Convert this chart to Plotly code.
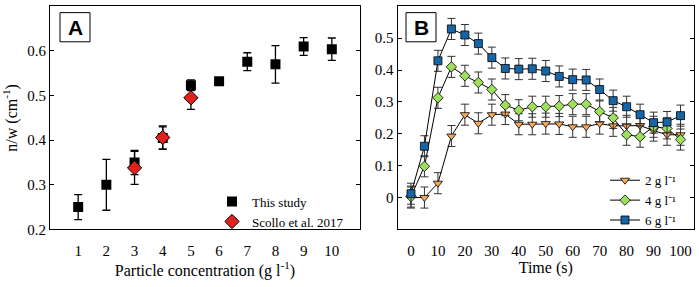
import plotly.graph_objects as go

# ---------- Panel A data ----------
conc = [1, 2, 3, 4, 5, 6, 7, 8, 9, 10]
this_study = [0.250, 0.300, 0.350, 0.405, 0.523, 0.532, 0.576, 0.570, 0.610, 0.604]
this_err = [0.028, 0.057, 0.027, 0.025, 0.012, 0.0, 0.020, 0.042, 0.020, 0.025]
scollo_conc = [3, 4, 5]
scollo = [0.338, 0.406, 0.495]
scollo_err = [0.037, 0.026, 0.026]

# ---------- Panel B data ----------
time_s = [0, 5, 10, 15, 20, 25, 30, 35, 40, 45, 50, 55, 60, 65, 70, 75, 80, 85, 90, 95, 100]
c2 = [0.0, 0.0, 0.045, 0.193, 0.260, 0.233, 0.260, 0.262, 0.230, 0.230, 0.232, 0.231,
      0.222, 0.222, 0.232, 0.225, 0.225, 0.226, 0.210, 0.197, 0.197]
c4 = [0.003, 0.098, 0.313, 0.410, 0.382, 0.361, 0.339, 0.290, 0.274, 0.285, 0.285, 0.287,
      0.293, 0.293, 0.270, 0.250, 0.197, 0.191, 0.222, 0.217, 0.182]
c6 = [0.012, 0.161, 0.429, 0.529, 0.510, 0.483, 0.439, 0.405, 0.403, 0.404, 0.397, 0.380,
      0.370, 0.369, 0.339, 0.304, 0.285, 0.260, 0.235, 0.237, 0.257]
err_b = 0.033
time_ticks = [0, 10, 20, 30, 40, 50, 60, 70, 80, 90, 100]

serif = "Liberation Serif"

fig = go.Figure()

# Panel A
fig.add_trace(go.Scatter(
    x=conc, y=this_study, mode="markers", name="This study",
    marker=dict(symbol="square", size=10, color="black"),
    error_y=dict(type="data", array=this_err, color="black", thickness=1.3, width=4),
    xaxis="x", yaxis="y", legend="legend"))
fig.add_trace(go.Scatter(
    x=scollo_conc, y=scollo, mode="markers", name="Scollo et al. 2017",
    marker=dict(symbol="diamond", size=11, color="#e3211c", line=dict(color="black", width=1)),
    error_y=dict(type="data", array=scollo_err, color="black", thickness=1.3, width=4),
    xaxis="x", yaxis="y", legend="legend"))

# Panel B
series = [
    ("2 g l\u207b\u00b9", c2, "triangle-down", "#f8a857"),
    ("4 g l\u207b\u00b9", c4, "diamond", "#9ee05e"),
    ("6 g l\u207b\u00b9", c6, "square", "#1565a7"),
]
for name, vals, sym, col in series:
    fig.add_trace(go.Scatter(
        x=time_s, y=vals, mode="lines+markers", name=name,
        line=dict(color="black", width=1),
        marker=dict(symbol=sym, size=8, color=col, line=dict(color="black", width=0.8)),
        error_y=dict(type="data", array=[err_b] * len(vals), color="#333333", thickness=1, width=4),
        xaxis="x2", yaxis="y2", legend="legend2"))

tickfont = dict(family=serif, size=15, color="black")
title_font = dict(family=serif, size=16, color="black")

yaxis_common = dict(
    showline=True, linecolor="black", linewidth=1, mirror="ticks",
    ticks="inside", ticklen=4, tickcolor="black", showgrid=False, zeroline=False,
    tickfont=tickfont,
)
# x axes carrying labels: transparent outside ticks push labels away from the axis
xlabel_common = dict(
    showline=True, linecolor="black", linewidth=1, mirror=True,
    ticks="outside", ticklen=8, tickcolor="rgba(0,0,0,0)", showgrid=False, zeroline=False,
    tickfont=tickfont,
)
# overlay x axes drawing the visible inside ticks (bottom and top)
xtick_common = dict(
    showline=False, mirror="ticks", ticks="inside", ticklen=4, tickcolor="black",
    showgrid=False, zeroline=False, showticklabels=False,
)

dom_y = [1 - 236 / 287, 1 - 6.5 / 287]
dom_a = [50 / 699, 360 / 699]
dom_b = [397.5 / 699, 694 / 699]

fig.update_layout(
    width=699, height=287,
    margin=dict(l=0, r=0, t=0, b=0),
    paper_bgcolor="white", plot_bgcolor="white",
    font=dict(family=serif, color="black"),
    xaxis=dict(domain=dom_a, range=[0, 11], tickvals=conc,
               title=dict(text="Particle concentration (g l<sup>-1</sup>)",
                          font=title_font, standoff=2),
               anchor="y", **xlabel_common),
    xaxis3=dict(overlaying="x", anchor="y", range=[0, 11], tickvals=conc, **xtick_common),
    yaxis=dict(domain=dom_y, range=[0.2, 0.7], dtick=0.1, tickformat=".1f",
               title=dict(text="n/w (cm<sup>-1</sup>)", font=title_font, standoff=6),
               anchor="x", **yaxis_common),
    xaxis2=dict(domain=dom_b, range=[-5, 105], tickvals=time_ticks,
                title=dict(text="Time (s)", font=title_font, standoff=2),
                anchor="y2", **xlabel_common),
    xaxis4=dict(overlaying="x2", anchor="y2", range=[-5, 105], tickvals=time_ticks,
                **xtick_common),
    yaxis2=dict(domain=dom_y, range=[-0.1, 0.6],
                tickvals=[0, 0.1, 0.2, 0.3, 0.4, 0.5],
                ticktext=["0", "0.1", "0.2", "0.3", "0.4", "0.5"],
                anchor="x2", **yaxis_common),
    legend=dict(x=212 / 699, y=1 - 192 / 287, xanchor="left", yanchor="top",
                bgcolor="rgba(0,0,0,0)", borderwidth=0, tracegroupgap=0,
                font=dict(family=serif, size=13, color="black"), itemwidth=30),
    legend2=dict(x=605 / 699, y=1 - 170 / 287, xanchor="left", yanchor="top",
                 bgcolor="rgba(0,0,0,0)", borderwidth=0, tracegroupgap=0,
                 font=dict(family=serif, size=13, color="black"), itemwidth=30),
    showlegend=True,
)

# Panel label boxes
for x0, label in [(60, "A"), (406, "B")]:
    fig.add_shape(type="rect", xref="paper", yref="paper",
                  x0=x0 / 699, x1=(x0 + 30) / 699, y0=1 - 43 / 287, y1=1 - 13 / 287,
                  line=dict(color="black", width=1), fillcolor="white", layer="above")
    fig.add_annotation(x=(x0 + 15) / 699, y=1 - 28 / 287, xref="paper", yref="paper",
                       text="<b>%s</b>" % label, showarrow=False,
                       font=dict(family="Liberation Sans", size=21, color="black"),
                       xanchor="center", yanchor="middle")

fig.write_html("out.html", config={"displayModeBar": False},
               post_script="document.body.style.margin='0';document.body.style.overflow='hidden';")
